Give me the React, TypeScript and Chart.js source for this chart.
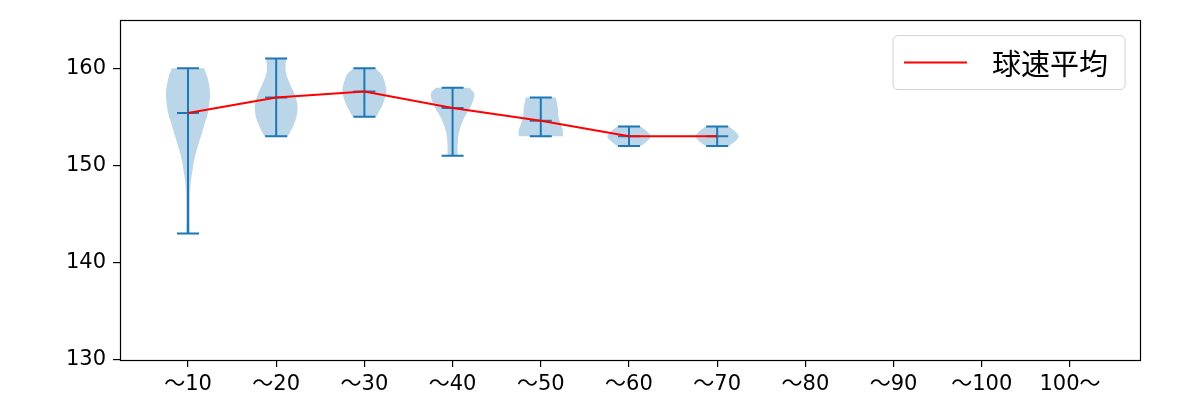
import React, { useEffect, useRef } from "react";
import { Chart, registerables } from "chart.js";

Chart.register(...registerables);

// ---------- data ----------
const categories = ["～10", "～20", "～30", "～40", "～50", "～60", "～70", "～80", "～90", "～100", "100～"];
const meanSpeed = [155.4, 157.0, 157.6, 155.9, 154.6, 153.0, 153.0];
const minSpeed = [143, 153, 155, 151, 153, 152, 152];
const maxSpeed = [160, 161, 160, 158, 157, 154, 154];
const yTicks = [130, 140, 150, 160];
const legendLabel = "球速平均";

// density profile of each violin: [speed, relative width]
const density10 = [[160, 0.73], [158.9, 0.9], [157.3, 1.0], [155.4, 0.9], [154.4, 0.77], [153.4, 0.64], [152.3, 0.49], [151.3, 0.36], [150.4, 0.27], [149.6, 0.21], [147.9, 0.11], [145.5, 0.08], [143, 0.1]];
const density20 = [[161, 0.45], [159.7, 0.43], [158.5, 0.6], [157.4, 0.82], [156.3, 0.96], [155.2, 0.94], [154, 0.76], [153, 0.53]];
const density30 = [[160, 0.49], [159.5, 0.73], [159, 0.86], [157.6, 1.0], [156.3, 0.83], [155.6, 0.68], [155, 0.53]];
const density40 = [[158, 0.76], [157.3, 0.99], [156.1, 0.83], [154.9, 0.53], [153.5, 0.3], [152.1, 0.23], [151, 0.23]];
const density50 = [[157, 0.68], [156, 0.77], [155, 0.8], [154.3, 0.9], [153.6, 1.0], [153, 1.0]];
const density60 = [[154, 0.53], [153.5, 0.82], [153, 0.99], [152.5, 0.82], [152, 0.53]];
const density70 = [[154, 0.51], [153.5, 0.82], [153, 0.97], [152.5, 0.82], [152, 0.51]];
const densities = [density10, density20, density30, density40, density50, density60, density70];

// ---------- styling ----------
const FONT = "'Noto Sans CJK JP', 'Noto Sans', sans-serif";
const TICK_FONT = "'DejaVu Sans', 'Noto Sans CJK JP', sans-serif";
const BLUE = "#1f77b4";
const VIOLIN_FILL = "rgba(31,119,180,0.3)";
const HALF_WIDTH = 0.25; // violin max half width, category units
const CAP = 0.125;

function violinDataset(idx: number, dens: number[][]) {
  const left = dens.map(([v, w]) => ({ x: idx - w * HALF_WIDTH, y: v }));
  const right = dens.slice().reverse().map(([v, w]) => ({ x: idx + w * HALF_WIDTH, y: v }));
  return {
    type: "line" as const,
    label: "violin" + idx,
    data: [...left, ...right],
    violin: true,
    sideCount: dens.length,
    showLine: false,
    pointRadius: 0,
    pointHitRadius: 0,
    borderWidth: 0,
    backgroundColor: VIOLIN_FILL,
    borderColor: VIOLIN_FILL,
  };
}

function whiskerData() {
  const pts: { x: number; y: number | null }[] = [];
  for (let i = 0; i < meanSpeed.length; i++) {
    pts.push({ x: i, y: minSpeed[i] }, { x: i, y: maxSpeed[i] }, { x: i, y: null });
    for (const v of [minSpeed[i], maxSpeed[i], meanSpeed[i]]) {
      pts.push({ x: i - CAP, y: v }, { x: i + CAP, y: v }, { x: i, y: null });
    }
  }
  return pts;
}

function sideCurve(ctx: CanvasRenderingContext2D, p: { x: number; y: number }[], first: boolean) {
  if (first) ctx.moveTo(p[0].x, p[0].y);
  else ctx.lineTo(p[0].x, p[0].y);
  for (let i = 0; i < p.length - 1; i++) {
    const p0 = p[Math.max(0, i - 1)];
    const p1 = p[i];
    const p2 = p[i + 1];
    const p3 = p[Math.min(p.length - 1, i + 2)];
    const c1x = p1.x + (p2.x - p0.x) / 6;
    const c1y = p1.y + (p2.y - p0.y) / 6;
    const c2x = p2.x - (p3.x - p1.x) / 6;
    const c2y = p2.y - (p3.y - p1.y) / 6;
    ctx.bezierCurveTo(c1x, c1y, c2x, c2y, p2.x, p2.y);
  }
}

const violinPlugin = {
  id: "violinFill",
  beforeDatasetsDraw(chart: any) {
    const ctx = chart.ctx as CanvasRenderingContext2D;
    const area = chart.chartArea;
    ctx.save();
    ctx.beginPath();
    ctx.rect(area.left, area.top, area.right - area.left, area.bottom - area.top);
    ctx.clip();
    chart.data.datasets.forEach((ds: any, i: number) => {
      if (!ds.violin) return;
      const meta = chart.getDatasetMeta(i);
      const pts = meta.data.map((e: any) => ({ x: e.x, y: e.y }));
      const n = ds.sideCount;
      ctx.beginPath();
      sideCurve(ctx, pts.slice(0, n), true);
      sideCurve(ctx, pts.slice(n), false);
      ctx.closePath();
      ctx.fillStyle = ds.backgroundColor;
      ctx.fill();
    });
    ctx.restore();
  },
};

const framePlugin = {
  id: "frameAndLegend",
  afterDraw(chart: any) {
    const ctx = chart.ctx as CanvasRenderingContext2D;
    const a = chart.chartArea;
    ctx.save();
    ctx.strokeStyle = "#000";
    ctx.lineWidth = 1.2;
    ctx.strokeRect(Math.round(a.left) + 0.5, Math.round(a.top) + 0.5, Math.round(a.right - a.left), Math.round(a.bottom - a.top));

    // legend
    const lx = a.right - 247, ly = a.top + 16, lw = 232, lh = 54, r = 5;
    ctx.beginPath();
    ctx.moveTo(lx + r, ly);
    ctx.arcTo(lx + lw, ly, lx + lw, ly + lh, r);
    ctx.arcTo(lx + lw, ly + lh, lx, ly + lh, r);
    ctx.arcTo(lx, ly + lh, lx, ly, r);
    ctx.arcTo(lx, ly, lx + lw, ly, r);
    ctx.closePath();
    ctx.fillStyle = "rgba(255,255,255,0.8)";
    ctx.fill();
    ctx.strokeStyle = "#d0d0d0";
    ctx.lineWidth = 1;
    ctx.stroke();

    const ds = chart.data.datasets[0];
    ctx.beginPath();
    ctx.moveTo(lx + 11, ly + lh / 2);
    ctx.lineTo(lx + 74, ly + lh / 2);
    ctx.strokeStyle = ds.borderColor;
    ctx.lineWidth = 2;
    ctx.stroke();

    ctx.fillStyle = "#000";
    ctx.font = `29px ${FONT}`;
    ctx.textBaseline = "middle";
    ctx.textAlign = "left";
    ctx.fillText(ds.label, lx + 99, ly + lh / 2 + 1);
    ctx.restore();
  },
};

export default function App() {
  const canvasRef = useRef<HTMLCanvasElement | null>(null);

  useEffect(() => {
    const canvas = canvasRef.current;
    if (!canvas) return;
    Chart.defaults.font.family = FONT;

    const datasets: any[] = [
      {
        type: "line",
        label: legendLabel,
        data: meanSpeed.map((v, i) => ({ x: i, y: v })),
        borderColor: "red",
        backgroundColor: "red",
        borderWidth: 2,
        pointRadius: 0,
        tension: 0,
        fill: false,
      },
      {
        type: "line",
        label: "whiskers",
        data: whiskerData(),
        borderColor: BLUE,
        backgroundColor: BLUE,
        borderWidth: 2,
        pointRadius: 0,
        spanGaps: false,
        fill: false,
      },
      ...densities.map((d, i) => violinDataset(i, d)),
    ];

    const chart = new Chart(canvas, {
      type: "line",
      data: { datasets },
      options: {
        animation: false,
        responsive: false,
        devicePixelRatio: 1,
        layout: { padding: { top: 19, right: 60, left: 0, bottom: 0 } },
        plugins: { legend: { display: false }, tooltip: { enabled: false } },
        events: [],
        scales: {
          x: {
            type: "linear",
            min: -0.771,
            max: 10.794,
            afterBuildTicks: (scale: any) => {
              scale.ticks = categories.map((_, i) => ({ value: i }));
            },
            afterFit: (scale: any) => {
              scale.height = 40;
            },
            grid: { display: true, drawOnChartArea: false, drawTicks: true, tickLength: 7, color: "#000", lineWidth: 1.2 },
            border: { display: false },
            ticks: {
              autoSkip: false,
              maxRotation: 0,
              padding: 5,
              color: "#000",
              font: { size: 21, family: TICK_FONT },
              callback: (v: any) => categories[Math.round(Number(v))] ?? "",
            },
          },
          y: {
            type: "linear",
            min: 130,
            max: 165,
            afterBuildTicks: (scale: any) => {
              scale.ticks = yTicks.map((v) => ({ value: v }));
            },
            afterFit: (scale: any) => {
              scale.width = 120;
            },
            grid: { display: true, drawOnChartArea: false, drawTicks: true, tickLength: 7, color: "#000", lineWidth: 1.2 },
            border: { display: false },
            ticks: {
              padding: 7,
              color: "#000",
              font: { size: 21, family: TICK_FONT },
              callback: (v: any) => String(v),
            },
          },
        },
      },
      plugins: [violinPlugin, framePlugin],
    } as any);

    return () => chart.destroy();
  }, []);

  return (
    <div style={{ position: "fixed", left: 0, top: 0, width: 1200, height: 400, background: "#fff" }}>
      <canvas ref={canvasRef} width={1200} height={400} style={{ display: "block" }} />
    </div>
  );
}
